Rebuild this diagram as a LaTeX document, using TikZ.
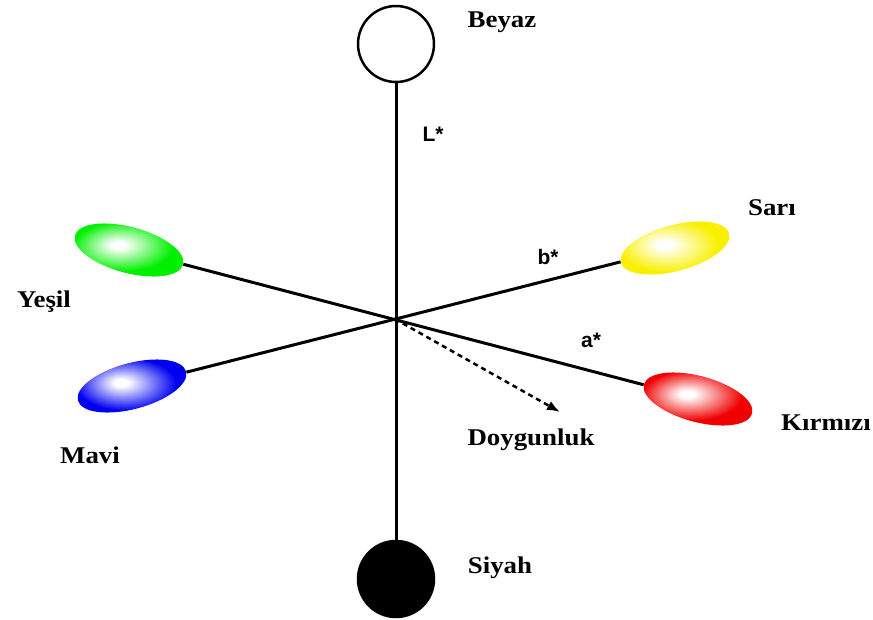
\documentclass[tikz,border=0pt]{standalone}
\usepackage{fontspec}
\setmainfont{Liberation Serif}[FakeStretch=1.12]
\setsansfont{Liberation Sans}
\usetikzlibrary{arrows.meta, shapes.geometric}
\definecolor{cgreen}{HTML}{00F000}
\definecolor{cblue}{HTML}{0000F0}
\definecolor{cyellow}{HTML}{F8F000}
\definecolor{cred}{HTML}{F00000}
\colorlet{ovalcol}{black}
\pgfdeclareradialshading[ovalcol]{ovalshade}{\pgfpoint{-5bp}{3bp}}{%
  color(0bp)=(white); color(3bp)=(white); color(22bp)=(ovalcol); color(50bp)=(ovalcol)}
\tikzset{
  axis/.style={black, line width=3pt},
  oval/.style={ellipse, minimum width=112pt, minimum height=46pt, inner sep=0pt,
    /utils/exec={\colorlet{ovalcol}{#1}}, shading=ovalshade},
  pole/.style={circle, minimum size=76pt, inner sep=0pt, draw=black, line width=2.5pt},
  lbl/.style={font=\fontsize{24}{26}\selectfont\bfseries},
  axlbl/.style={font=\fontsize{21}{23}\selectfont\sffamily\bfseries}
}
\begin{document}
\begin{tikzpicture}[x=1pt, y=-1pt]
\useasboundingbox (0,0) rectangle (873,619);
\fill[white] (0,0) rectangle (873,619);
% poles and colour ovals
\node[pole, fill=white] (white) at (396,44) {};
\node[pole, fill=black] (black) at (396,579) {};
\node[oval=cgreen, rotate=-15] (green) at (129,250) {};
\node[oval=cblue, rotate=15] (blue) at (132,386) {};
\node[oval=cyellow, rotate=15] (yellow) at (675,248) {};
\node[oval=cred, rotate=-15] (red) at (698,399) {};
\coordinate (o) at (395,319);
\coordinate (dtip) at (560,412);
% axes
\draw[axis] (white) -- (black);
\draw[axis] (green) -- (red);
\draw[axis] (blue) -- (yellow);
\draw[black, line width=2.5pt, dash pattern=on 5pt off 4pt, -{Latex[length=13pt, width=10pt]}] (o) -- (dtip);
% labels
\node[lbl] (beyaz) at (502,22) {Beyaz};
\node[axlbl] (lstar) at (433,134) {L*};
\node[lbl] (sari) at (772,208) {Sarı};
\node[axlbl] (bstar) at (548,257) {b*};
\node[lbl] (yesil) at (44,302) {Yeşil};
\node[axlbl] (astar) at (591,340) {a*};
\node[lbl] (mavi) at (90,455) {Mavi};
\node[lbl] (doyg) at (531,440) {Doygunluk};
\node[lbl] (kirmizi) at (826,423) {Kırmızı};
\node[lbl] (siyah) at (500,568) {Siyah};
\end{tikzpicture}
\end{document}
